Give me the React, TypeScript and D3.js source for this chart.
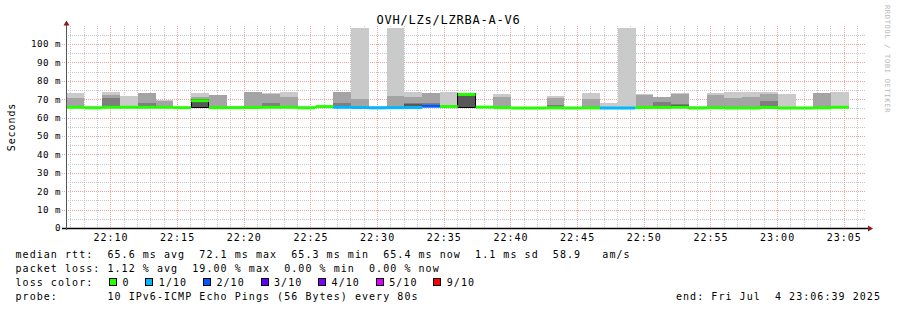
import React from 'react';
import * as d3 from 'd3';

const title = 'OVH/LZs/LZRBA-A-V6';
const yLabel = 'Seconds';
const credit = 'RRDTOOL / TOBI OETIKER';
const startTime = new Date(2025, 6, 4, 22, 6, 40);
const endTime = new Date(2025, 6, 4, 23, 6, 40);
const firstBarTime = new Date(2025, 6, 4, 22, 6, 43);
const stepSeconds = 80;

// per-bar values in ms (10 pings every 80s, sorted; p0..p3 = pingLow, p4/p5 ~ median)
const medians = [65.6, 65.3, 65.6, 65.6, 65.6, 65.6, 65.4, 69.2, 65.4, 65.4, 65.5, 65.6, 65.6, 65.3, 66.0, 65.6, 65.5, 65.3, 65.4, 65.5, 66.2, 66.0, 72.6, 65.7, 65.4, 65.2, 65.2, 65.3, 65.2, 65.3, 65.2, 65.2, 65.5, 65.5, 65.6, 65.2, 65.4, 65.2, 65.2, 65.5, 65.2, 65.2, 65.3, 65.6];
const pingMax = [73.4, 66.3, 73.9, 71.7, 73.5, 69.7, 65.8, 73.4, 72.3, 66.3, 74.0, 73.6, 73.9, 66.3, 66.5, 74.1, 108.7, 66.3, 108.7, 74.1, 73.5, 74.1, 73.5, 66.2, 72.8, 65.5, 65.5, 71.7, 65.5, 73.5, 68.0, 108.9, 72.8, 71.2, 73.4, 66.3, 73.4, 73.9, 73.9, 73.9, 72.8, 65.5, 73.5, 73.9];
const ping9th = [70.7, 65.9, 72.3, 66.0, 73.4, 68.8, 65.7, 71.2, 72.2, 65.9, 73.8, 72.7, 71.1, 65.9, 66.3, 74.0, 70.1, 65.9, 71.7, 71.4, 73.4, 66.6, 73.3, 66.0, 71.0, 65.4, 65.4, 70.5, 65.4, 70.1, 65.6, 65.8, 72.3, 71.1, 73.0, 65.8, 72.3, 70.7, 71.2, 72.8, 66.0, 65.4, 73.4, 66.2];
const ping8th = [66.0, 65.6, 70.7, 65.9, 67.9, 66.0, 65.6, 70.2, 65.9, 65.7, 66.0, 67.9, 66.0, 65.6, 66.2, 68.0, 66.0, 65.6, 66.0, 67.8, 67.8, 66.4, 73.2, 65.9, 65.9, 65.4, 65.4, 66.8, 65.4, 65.8, 65.5, 65.6, 66.0, 68.5, 67.4, 65.5, 65.9, 65.7, 65.7, 69.2, 65.6, 65.4, 65.8, 66.0];
const ping7th = [65.8, 65.5, 65.9, 65.8, 65.9, 65.8, 65.5, 69.6, 65.7, 65.6, 65.8, 65.9, 65.9, 65.5, 66.1, 66.0, 65.8, 65.5, 65.7, 67.2, 66.6, 66.2, 73.0, 65.8, 65.7, 65.3, 65.3, 65.6, 65.3, 65.6, 65.4, 65.4, 65.8, 65.8, 67.0, 65.4, 65.7, 65.5, 65.5, 65.8, 65.5, 65.3, 65.6, 65.8];
const pingLow = [65.2, 65.0, 65.2, 65.2, 65.2, 65.2, 65.1, 65.4, 65.1, 65.1, 65.2, 65.2, 65.2, 65.0, 65.6, 65.2, 65.2, 65.0, 65.1, 65.2, 65.6, 65.6, 65.4, 65.3, 65.1, 65.0, 65.0, 65.0, 65.0, 65.0, 65.0, 65.0, 65.1, 65.1, 65.2, 65.0, 65.1, 65.0, 65.0, 65.1, 65.0, 65.0, 65.0, 65.2];
const lostPings = [0, 0, 0, 0, 0, 0, 0, 0, 0, 0, 0, 0, 0, 0, 0, 1, 1, 1, 1, 1, 2, 0, 0, 0, 0, 0, 0, 0, 0, 0, 1, 1, 0, 0, 0, 0, 0, 0, 0, 0, 0, 0, 0, 0];
const outlinedBars = [7, 22];

const lossLabels = ['0', '1/10', '2/10', '3/10', '4/10', '5/10', '9/10'];
const lossKeys = [0, 1, 2, 3, 4, 5, 9];
const lossColors = ['#26ff00', '#00b8ff', '#0059ff', '#5e00ff', '#7e00ff', '#dd00ff', '#ff0000'];
const smokeShades = ['#cacaca', '#a4a4a4', '#7e7e7e', '#585858', '#323232'];

const yTicks = [0, 10, 20, 30, 40, 50, 60, 70, 80, 90, 100];
const legendLine1 = 'median rtt:  65.6 ms avg  72.1 ms max  65.3 ms min  65.4 ms now  1.1 ms sd  58.9   am/s';
const legendLine2 = 'packet loss: 1.12 % avg  19.00 % max  0.00 % min  0.00 % now';
const legendLine3 = 'loss color:';
const legendLine4 = 'probe:       10 IPv6-ICMP Echo Pings (56 Bytes) every 80s';
const endLabel = 'end: Fri Jul  4 23:06:39 2025';

const MONO = '"DejaVu Sans Mono", "Liberation Mono", monospace';

export default function App() {
  const W = 897, H = 310;
  const left = 66, right = 866, bottom = 228;
  const x = d3.scaleTime().domain([startTime, endTime]).range([left, right]);
  const y = d3.scaleLinear().domain([0, 110]).range([bottom, 25.6]);
  const top = y(110);

  const minuteTicks = d3.timeMinute.range(startTime, endTime);
  const minorV = minuteTicks.filter((t) => t.getMinutes() % 5 !== 0);
  const majorV = minuteTicks.filter((t) => t.getMinutes() % 5 === 0);
  const minorH = d3.range(5, 110, 10);
  const majorH = yTicks.filter((v) => v > 0);
  const fmt = d3.timeFormat('%H:%M');

  const bars = medians.map((m, i) => {
    const t0 = d3.timeSecond.offset(firstBarTime, i * stepSeconds);
    const t1 = d3.timeSecond.offset(firstBarTime, (i + 1) * stepSeconds);
    const pings = [pingLow[i], pingLow[i], pingLow[i], pingLow[i], m, m, ping7th[i], ping8th[i], ping9th[i], pingMax[i]];
    return { i, t0, t1, m, pings, loss: lostPings[i] };
  });

  // legend box positions
  const charW = 7.07;
  let bx = 109;
  const legendItems = lossLabels.map((lab, k) => {
    const item = { lab, color: lossColors[k], bx };
    bx = bx + 14.3 + lab.length * charW + 15;
    return item;
  });

  const legendFont = { fontFamily: MONO, fontSize: 10, letterSpacing: 1.05, whiteSpace: 'pre' as const };

  return (
    <svg width={W} height={H} viewBox={`0 0 ${W} ${H}`} style={{ position: 'absolute', left: 0, top: 0, display: 'block', background: '#fff' }}>
      <rect x={0} y={0} width={W} height={H} fill="#fff" />
      {/* grid */}
      <g shapeRendering="crispEdges" strokeDasharray="1,1" strokeWidth={1}>
        {minorH.map((v) => (
          <line key={'mh' + v} x1={left} x2={right} y1={Math.round(y(v)) + 0.5} y2={Math.round(y(v)) + 0.5} stroke="#c8c8c8" />
        ))}
        {minorV.map((t) => (
          <line key={'mv' + t.getTime()} x1={Math.round(x(t)) + 0.5} x2={Math.round(x(t)) + 0.5} y1={top} y2={bottom} stroke="#c8c8c8" />
        ))}
        {majorH.map((v) => (
          <line key={'Mh' + v} x1={left - 4} x2={right} y1={Math.round(y(v)) + 0.5} y2={Math.round(y(v)) + 0.5} stroke="#f0a0a0" />
        ))}
        {majorV.map((t) => (
          <line key={'Mv' + t.getTime()} x1={Math.round(x(t)) + 0.5} x2={Math.round(x(t)) + 0.5} y1={top} y2={bottom + 2} stroke="#f0a0a0" />
        ))}
      </g>
      {/* smoke */}
      <g shapeRendering="crispEdges">
        {bars.map((b) =>
          smokeShades.map((shade, k) => {
            const lo = b.pings[k];
            const hi = b.pings[9 - k];
            if (hi - lo <= 0) return null;
            const x0 = x(b.t0), x1 = x(b.t1);
            return (
              <rect key={`s${b.i}-${k}`} x={x0} y={y(hi)} width={x1 - x0} height={y(lo) - y(hi)} fill={shade}
                stroke={k === 3 && outlinedBars.includes(b.i) ? '#000' : 'none'} strokeWidth={1} />
            );
          })
        )}
      </g>
      {/* median */}
      <g>
        {bars.map((b) => (
          <line key={'md' + b.i} x1={x(b.t0)} x2={x(b.t1)} y1={y(b.m)} y2={y(b.m)}
            stroke={lossColors[lossKeys.indexOf(b.loss)]} strokeWidth={3} />
        ))}
      </g>
      {/* axes */}
      <line x1={left - 4} x2={right + 3} y1={bottom + 0.5} y2={bottom + 0.5} stroke="#000" strokeWidth={1.3} />
      <line x1={left + 0.5} x2={left + 0.5} y1={bottom + 2} y2={top - 2} stroke="#555" strokeWidth={1} />
      <path d={`M${right + 7},${bottom + 0.5} L${right + 2},${bottom - 2.5} L${right + 2},${bottom + 3.5} Z`} fill="#8b1a1a" />
      <path d={`M${left + 0.5},${top - 5} L${left - 2.5},${top} L${left + 3.5},${top} Z`} fill="#8b1a1a" />
      {/* y ticks */}
      {yTicks.map((v) => (
        <text key={'yt' + v} x={61} y={y(v) + 3.4} textAnchor="end" fontFamily={MONO} fontSize={9.2} letterSpacing={0.45} style={{ whiteSpace: 'pre' }} fill="#000">
          {v === 0 ? '0' : `${v} m`}
        </text>
      ))}
      {/* x ticks */}
      {majorV.map((t) => (
        <text key={'xt' + t.getTime()} x={x(t) + 0.5} y={241} textAnchor="middle" fontFamily={MONO} fontSize={10} letterSpacing={1.0} fill="#000">
          {fmt(t)}
        </text>
      ))}
      {/* title */}
      <text x={448.5} y={24} textAnchor="middle" fontFamily={MONO} fontSize={12} letterSpacing={0.78} fill="#000">{title}</text>
      {/* y label */}
      <text transform="translate(15,127) rotate(-90)" textAnchor="middle" fontFamily={MONO} fontSize={10} letterSpacing={0.9} fill="#000">{yLabel}</text>
      {/* credit */}
      <text transform="translate(885,59) rotate(90)" textAnchor="middle" fontFamily={MONO} fontSize={7} letterSpacing={0.7} fill="#b8b8b8">{credit}</text>
      {/* legend */}
      <text x={15.5} y={258} style={legendFont} fill="#000">{legendLine1}</text>
      <text x={15.5} y={272} style={legendFont} fill="#000">{legendLine2}</text>
      <text x={15.5} y={286} style={legendFont} fill="#000">{legendLine3}</text>
      {legendItems.map((it) => (
        <g key={'lg' + it.lab}>
          <rect x={Math.round(it.bx) + 0.5} y={278.5} width={7} height={7} fill={it.color} stroke="#000" strokeWidth={1} shapeRendering="crispEdges" />
          <text x={it.bx + 13.5} y={286} style={legendFont} fill="#000">{it.lab}</text>
        </g>
      ))}
      <text x={15.5} y={300} style={legendFont} fill="#000">{legendLine4}</text>
      <text x={881} y={300} textAnchor="end" style={legendFont} fill="#000">{endLabel}</text>
    </svg>
  );
}
